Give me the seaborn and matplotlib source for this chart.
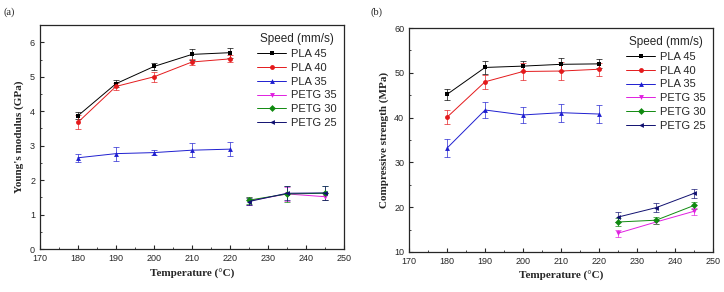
import numpy as np
import pandas as pd
import matplotlib
matplotlib.use("Agg")
import matplotlib.pyplot as plt
import seaborn as sns
from matplotlib.ticker import MultipleLocator

# data
temp_pla = [180, 190, 200, 210, 220]
temp_petg = [225, 235, 245]
series = ["PLA 45", "PLA 40", "PLA 35", "PETG 35", "PETG 30", "PETG 25"]

mod_pla45 = [3.87, 4.80, 5.30, 5.65, 5.70]
mod_pla40 = [3.68, 4.72, 5.00, 5.43, 5.52]
mod_pla35 = [2.65, 2.77, 2.80, 2.87, 2.90]
mod_petg35 = [1.40, 1.60, 1.52]
mod_petg30 = [1.42, 1.60, 1.62]
mod_petg25 = [1.38, 1.62, 1.63]
mod_err_pla45 = [0.10, 0.10, 0.10, 0.15, 0.15]
mod_err_pla40 = [0.20, 0.10, 0.15, 0.10, 0.10]
mod_err_pla35 = [0.12, 0.20, 0.08, 0.20, 0.20]
mod_err_petg35 = [0.12, 0.20, 0.10]
mod_err_petg30 = [0.10, 0.22, 0.20]
mod_err_petg25 = [0.10, 0.20, 0.20]

cs_pla45 = [45.2, 51.2, 51.5, 51.9, 52.0]
cs_pla40 = [40.1, 48.0, 50.3, 50.4, 50.8]
cs_pla35 = [33.2, 41.7, 40.6, 41.1, 40.8]
cs_petg35 = [14.2, 16.7, 19.1]
cs_petg30 = [16.7, 17.1, 20.4]
cs_petg25 = [17.8, 19.9, 23.1]
cs_err_pla45 = [1.3, 1.5, 1.2, 1.4, 1.0]
cs_err_pla40 = [1.6, 1.6, 1.8, 2.0, 1.5]
cs_err_pla35 = [2.1, 1.8, 1.7, 2.0, 2.0]
cs_err_petg35 = [0.8, 0.5, 0.8]
cs_err_petg30 = [0.8, 0.8, 0.8]
cs_err_petg25 = [1.2, 1.0, 1.0]

colors = ["black", "#e41a1c", "#1f1fd0", "#e020e0", "#108a10", "#101070"]
markers = ["s", "o", "^", "v", "D", "<"]


def make_df(vals, errs):
    rows = []
    for name, v, e in zip(series, vals, errs):
        xs = temp_pla if name.startswith("PLA") else temp_petg
        for x, y, d in zip(xs, v, e):
            rows.append({"Temperature": x, "value": y, "err": d, "Speed": name})
    return pd.DataFrame(rows)


df_mod = make_df([mod_pla45, mod_pla40, mod_pla35, mod_petg35, mod_petg30, mod_petg25],
                 [mod_err_pla45, mod_err_pla40, mod_err_pla35, mod_err_petg35,
                  mod_err_petg30, mod_err_petg25])
df_cs = make_df([cs_pla45, cs_pla40, cs_pla35, cs_petg35, cs_petg30, cs_petg25],
                [cs_err_pla45, cs_err_pla40, cs_err_pla35, cs_err_petg35,
                 cs_err_petg30, cs_err_petg25])

sns.set_style("ticks")
plt.rcParams["font.family"] = ["Liberation Sans", "DejaVu Sans"]

fig = plt.figure(figsize=(7.24, 2.92), dpi=100)
ax1 = fig.add_axes([0.0552, 0.147, 0.420, 0.767])
ax2 = fig.add_axes([0.565, 0.137, 0.420, 0.767])

serif = ["Liberation Serif", "DejaVu Serif"]

for ax, df, ylab, ylim, ymaj in [
    (ax1, df_mod, "Young's modulus (GPa)", (0, 6.5), 1),
    (ax2, df_cs, "Compressive strength (MPa)", (10, 60), 10),
]:
    for i, name in enumerate(series):
        sub = df[df["Speed"] == name]
        ax.errorbar(sub["Temperature"], sub["value"], yerr=sub["err"], fmt="none",
                    ecolor=colors[i], elinewidth=0.6, capsize=2, capthick=0.6, alpha=0.8)
    sns.lineplot(data=df, x="Temperature", y="value", hue="Speed", style="Speed",
                 hue_order=series, style_order=series, palette=colors,
                 markers=markers, dashes=False, markersize=3.5, linewidth=0.7,
                 markeredgewidth=0, ax=ax)
    ax.set_xlim(170, 250)
    ax.set_ylim(*ylim)
    ax.xaxis.set_major_locator(MultipleLocator(10))
    ax.yaxis.set_major_locator(MultipleLocator(ymaj))
    ax.yaxis.set_minor_locator(MultipleLocator(ymaj / 2))
    ax.xaxis.set_minor_locator(MultipleLocator(5))
    ax.tick_params(direction="in", labelsize=6.5, length=3, width=0.8)
    ax.tick_params(which="minor", direction="in", length=1.5, width=0.6)
    for s in ax.spines.values():
        s.set_linewidth(0.9)
    ax.set_xlabel("Temperature (°C)", fontsize=8, fontweight="bold", family=serif)
    ax.set_ylabel(ylab, fontsize=8, fontweight="bold", family=serif, labelpad=4)
    leg = ax.legend(title="Speed (mm/s)", loc="upper right", frameon=False,
                    fontsize=8, title_fontsize=8.5, handlelength=2.6,
                    labelspacing=0.35, borderaxespad=0.3, handletextpad=0.4)

fig.text(0.005, 0.95, "(a)", fontsize=7.5, family=serif)
fig.text(0.512, 0.95, "(b)", fontsize=7.5, family=serif)

fig.savefig("out.png", dpi=100)
